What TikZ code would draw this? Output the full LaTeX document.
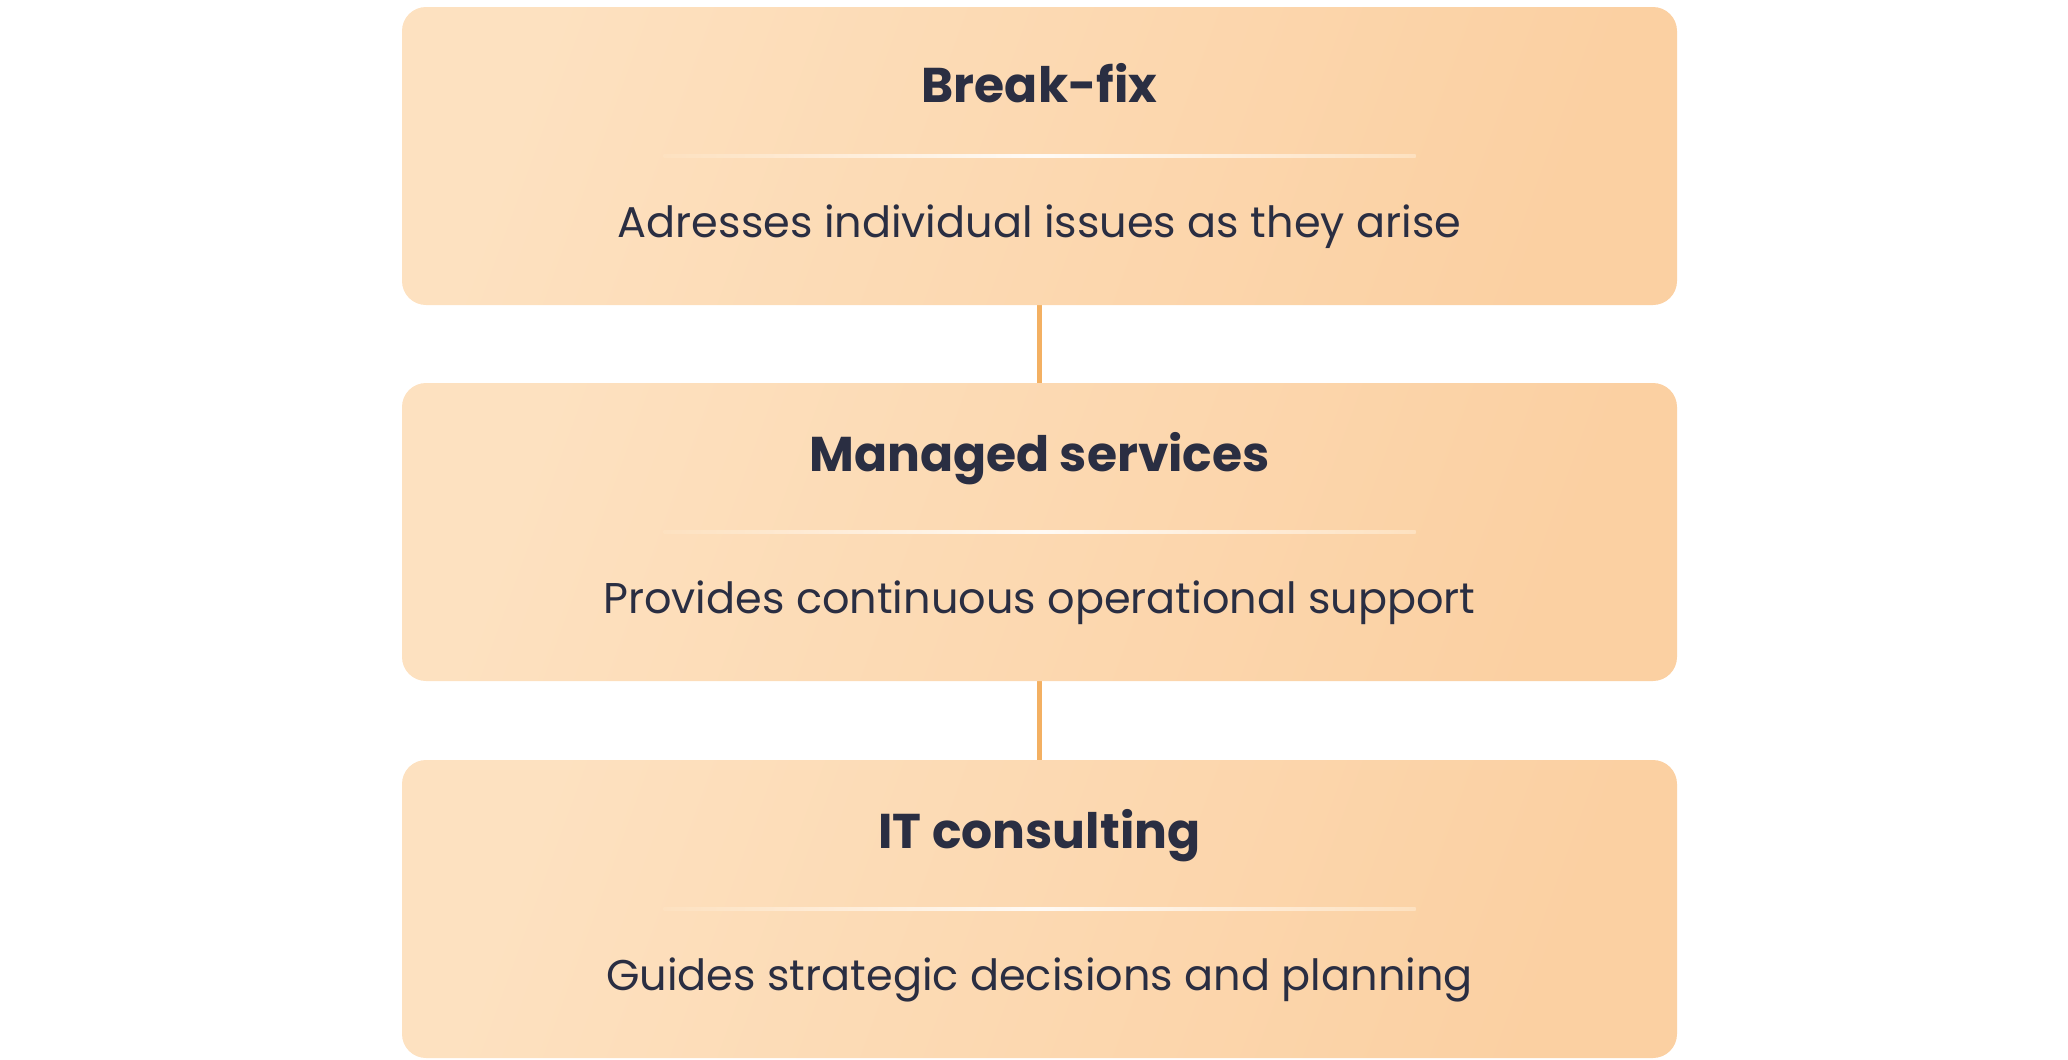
\documentclass[tikz,border=0pt]{standalone}
\usepackage{fontspec}
\setmainfont{Poppins}
\definecolor{peachlight}{RGB}{253,225,192}
\definecolor{peachdark}{RGB}{251,208,162}
\definecolor{linkorange}{RGB}{243,176,98}
\definecolor{inkblue}{RGB}{42,46,66}
\tikzset{
    tierbox/.style={rectangle, rounded corners=12pt, minimum width=637.5pt, minimum height=149pt,
        inner sep=0pt, shading=axis, left color=peachlight, right color=peachdark, shading angle=70},
    tiertitle/.style={font=\fontsize{24.4}{29}\selectfont\bfseries, text=inkblue, inner sep=0pt},
    tiertext/.style={font=\fontsize{21.5}{26}\selectfont, text=inkblue, inner sep=0pt},
}
\begin{document}
\begin{tikzpicture}[x=0.5pt, y=-0.5pt]
        \useasboundingbox (0,0) rectangle (2068,1060);

        % connectors behind the boxes
        \coordinate (c1) at (1039.5,300);
        \coordinate (c2) at (1039.5,388);
        \coordinate (c3) at (1039.5,676);
        \coordinate (c4) at (1039.5,765);
        \draw[linkorange, line width=2.4pt] (c1) -- (c2);
        \draw[linkorange, line width=2.4pt] (c3) -- (c4);

        % (1) Break-fix
        \begin{scope}
            \node[tierbox] (fix) at (1039.5,156) {};
            \shade[left color=peachlight, right color=peachlight, middle color=white!85!peachlight]
                ([xshift=-188pt, yshift=-0.6pt]fix.center) rectangle ([xshift=188pt, yshift=0.6pt]fix.center);
            \node[tiertitle] (fixtitle) at (1039.5,83) {Break-fix};
            \node[tiertext] (fixtext) at (1039.5,227) {Adresses individual issues as they arise};
        \end{scope}

        % (2) Managed services
        \begin{scope}
            \node[tierbox] (managed) at (1039.5,532) {};
            \shade[left color=peachlight, right color=peachlight, middle color=white!85!peachlight]
                ([xshift=-188pt, yshift=-0.6pt]managed.center) rectangle ([xshift=188pt, yshift=0.6pt]managed.center);
            \node[tiertitle] (managedtitle) at (1039.5,459) {Managed services};
            \node[tiertext] (managedtext) at (1039.5,603) {Provides continuous operational support};
        \end{scope}

        % (3) IT consulting
        \begin{scope}
            \node[tierbox] (consult) at (1039.5,909) {};
            \shade[left color=peachlight, right color=peachlight, middle color=white!85!peachlight]
                ([xshift=-188pt, yshift=-0.6pt]consult.center) rectangle ([xshift=188pt, yshift=0.6pt]consult.center);
            \node[tiertitle] (consulttitle) at (1039.5,836) {IT consulting};
            \node[tiertext] (consulttext) at (1039.5,980) {Guides strategic decisions and planning};
        \end{scope}
    \end{tikzpicture}
\end{document}
